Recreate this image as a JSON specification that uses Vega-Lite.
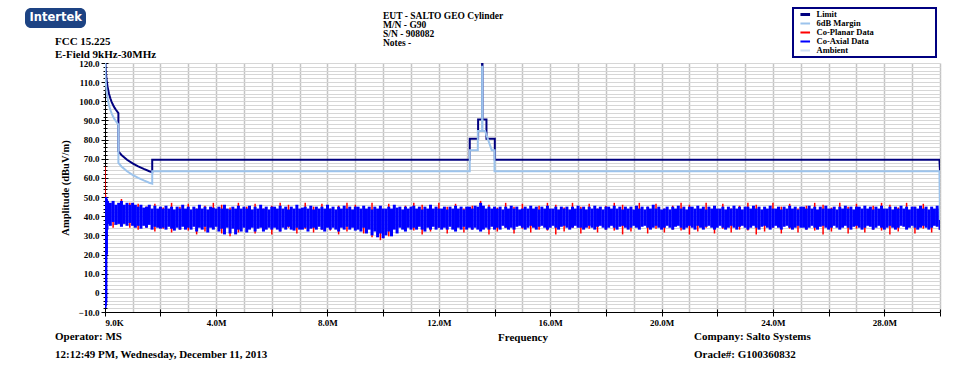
{
  "$schema": "https://vega.github.io/schema/vega-lite/v6.json",
  "width": 835,
  "height": 249,
  "autosize": {"type": "none"},
  "padding": {"left": 105, "top": 63, "right": 34, "bottom": 56},
  "background": "white",
  "config": {"view": {"stroke": null}, "font": "Liberation Serif"},
  "datasets": {
    "coaxial": [
      {"f":0.009,"lo":-8,"hi":50},{"f":0.02,"lo":-7,"hi":49},{"f":0.04,"lo":-5,"hi":50},{"f":0.06,"lo":20,"hi":49},{"f":0.08,"lo":33,"hi":48},
      {"f":0.1,"lo":36,"hi":48},{"f":0.2,"lo":35,"hi":47},{"f":0.3,"lo":37,"hi":48},{"f":0.4,"lo":35.5,"hi":46},{"f":0.5,"lo":36,"hi":47},{"f":0.6,"lo":34.5,"hi":48},{"f":0.7,"lo":36,"hi":46},{"f":0.8,"lo":35,"hi":47},{"f":0.9,"lo":36.5,"hi":46},{"f":1.0,"lo":35,"hi":47},
      {"f":1.1,"lo":34,"hi":46},{"f":1.2,"lo":35,"hi":45},{"f":1.3,"lo":33.5,"hi":46},{"f":1.4,"lo":35,"hi":44.5},{"f":1.5,"lo":34,"hi":45},{"f":1.6,"lo":35.5,"hi":46},{"f":1.7,"lo":33,"hi":44},{"f":1.8,"lo":34.5,"hi":45.5},{"f":1.9,"lo":34,"hi":44},{"f":2.0,"lo":33.5,"hi":45},
      {"f":2.1,"lo":34,"hi":44},{"f":2.2,"lo":33,"hi":45.5},{"f":2.3,"lo":34.5,"hi":44},{"f":2.4,"lo":33.5,"hi":45},{"f":2.5,"lo":32.5,"hi":43.5},{"f":2.6,"lo":34,"hi":45},{"f":2.7,"lo":33,"hi":44},{"f":2.8,"lo":34.5,"hi":46},{"f":2.9,"lo":33,"hi":44},{"f":3.0,"lo":34,"hi":45},
      {"f":3.1,"lo":33,"hi":43.5},{"f":3.2,"lo":34.5,"hi":45},{"f":3.3,"lo":32,"hi":44},{"f":3.4,"lo":34,"hi":46},{"f":3.5,"lo":33,"hi":44},{"f":3.6,"lo":34.5,"hi":45},{"f":3.7,"lo":31.5,"hi":43.5},{"f":3.8,"lo":34,"hi":45},{"f":3.9,"lo":33,"hi":44.5},{"f":4.0,"lo":34.5,"hi":44},
      {"f":4.1,"lo":32,"hi":45},{"f":4.2,"lo":33.5,"hi":44},{"f":4.3,"lo":30.5,"hi":46},{"f":4.4,"lo":34,"hi":44},{"f":4.5,"lo":31,"hi":43.5},{"f":4.6,"lo":33.5,"hi":45},{"f":4.7,"lo":30.5,"hi":44},{"f":4.8,"lo":33,"hi":45.5},{"f":4.9,"lo":32,"hi":44},{"f":5.0,"lo":34,"hi":45},
      {"f":5.1,"lo":31.5,"hi":44},{"f":5.2,"lo":33,"hi":45.5},{"f":5.3,"lo":34,"hi":43.5},{"f":5.4,"lo":32,"hi":45},{"f":5.5,"lo":33.5,"hi":44},{"f":5.6,"lo":34,"hi":46},{"f":5.7,"lo":32,"hi":44},{"f":5.8,"lo":33,"hi":45},{"f":5.9,"lo":34,"hi":43.5},{"f":6.0,"lo":33,"hi":45},
      {"f":6.1,"lo":34,"hi":45},{"f":6.2,"lo":33,"hi":44},{"f":6.3,"lo":32,"hi":45.5},{"f":6.4,"lo":34,"hi":44},{"f":6.5,"lo":33,"hi":45},{"f":6.6,"lo":34.5,"hi":43.5},{"f":6.7,"lo":33,"hi":45},{"f":6.8,"lo":32.5,"hi":44},{"f":6.9,"lo":34,"hi":46},{"f":7.0,"lo":33,"hi":44},
      {"f":7.1,"lo":33,"hi":44.5},{"f":7.2,"lo":34,"hi":45},{"f":7.3,"lo":32,"hi":44},{"f":7.4,"lo":33.5,"hi":45.5},{"f":7.5,"lo":34,"hi":43.5},{"f":7.6,"lo":33,"hi":45},{"f":7.7,"lo":34.5,"hi":44},{"f":7.8,"lo":33,"hi":45},{"f":7.9,"lo":32,"hi":44},{"f":8.0,"lo":34,"hi":46},
      {"f":8.1,"lo":33,"hi":44},{"f":8.2,"lo":34,"hi":45},{"f":8.3,"lo":33,"hi":43.5},{"f":8.4,"lo":32,"hi":45},{"f":8.5,"lo":34,"hi":44},{"f":8.6,"lo":33,"hi":45.5},{"f":8.7,"lo":34.5,"hi":44},{"f":8.8,"lo":33,"hi":45},{"f":8.9,"lo":34,"hi":43.5},{"f":9.0,"lo":32.5,"hi":45},
      {"f":9.1,"lo":33,"hi":45},{"f":9.2,"lo":32,"hi":44},{"f":9.3,"lo":34,"hi":45.5},{"f":9.4,"lo":31,"hi":44},{"f":9.5,"lo":33,"hi":45},{"f":9.6,"lo":30,"hi":43.5},{"f":9.7,"lo":32,"hi":45},{"f":9.8,"lo":29,"hi":44},{"f":9.9,"lo":31,"hi":45.5},{"f":10.0,"lo":28.5,"hi":44},
      {"f":10.1,"lo":30,"hi":44},{"f":10.2,"lo":32,"hi":45},{"f":10.3,"lo":29.5,"hi":44},{"f":10.4,"lo":33,"hi":46},{"f":10.5,"lo":31,"hi":44.5},{"f":10.6,"lo":34,"hi":45},{"f":10.7,"lo":33,"hi":43.5},{"f":10.8,"lo":32,"hi":45},{"f":10.9,"lo":34,"hi":44},{"f":11.0,"lo":33,"hi":45},
      {"f":11.1,"lo":34,"hi":45.5},{"f":11.2,"lo":33,"hi":44},{"f":11.3,"lo":34.5,"hi":45},{"f":11.4,"lo":33,"hi":43.5},{"f":11.5,"lo":32,"hi":45},{"f":11.6,"lo":34,"hi":44},{"f":11.7,"lo":33,"hi":46},{"f":11.8,"lo":34.5,"hi":44},{"f":11.9,"lo":33,"hi":45},{"f":12.0,"lo":34,"hi":44},
      {"f":12.1,"lo":33,"hi":44},{"f":12.2,"lo":34,"hi":45},{"f":12.3,"lo":33,"hi":43.5},{"f":12.4,"lo":34.5,"hi":45},{"f":12.5,"lo":33,"hi":44},{"f":12.6,"lo":32,"hi":45.5},{"f":12.7,"lo":34,"hi":44},{"f":12.8,"lo":33,"hi":45},{"f":12.9,"lo":34.5,"hi":43.5},{"f":13.0,"lo":33,"hi":45},
      {"f":13.1,"lo":34,"hi":45},{"f":13.2,"lo":33,"hi":44},{"f":13.3,"lo":34,"hi":45.5},{"f":13.4,"lo":33,"hi":45},{"f":13.5,"lo":32,"hi":47},{"f":13.6,"lo":33,"hi":45.5},{"f":13.7,"lo":34,"hi":44},{"f":13.8,"lo":33,"hi":45},{"f":13.9,"lo":34.5,"hi":44},{"f":14.0,"lo":33,"hi":45},
      {"f":14.1,"lo":34,"hi":44},{"f":14.2,"lo":33,"hi":45},{"f":14.3,"lo":35,"hi":43.5},{"f":14.4,"lo":34,"hi":45},{"f":14.5,"lo":33,"hi":44},{"f":14.6,"lo":34,"hi":45.5},{"f":14.7,"lo":33,"hi":44},{"f":14.8,"lo":34.5,"hi":45},{"f":14.9,"lo":35,"hi":43.5},{"f":15.0,"lo":34,"hi":44},
      {"f":15.1,"lo":33,"hi":45},{"f":15.2,"lo":34,"hi":44},{"f":15.3,"lo":35,"hi":45.5},{"f":15.4,"lo":34,"hi":44},{"f":15.5,"lo":33,"hi":45},{"f":15.6,"lo":34.5,"hi":43.5},{"f":15.7,"lo":35,"hi":45},{"f":15.8,"lo":34,"hi":44},{"f":15.9,"lo":33,"hi":45.5},{"f":16.0,"lo":34,"hi":44},
      {"f":16.1,"lo":35,"hi":44},{"f":16.2,"lo":34,"hi":45},{"f":16.3,"lo":33,"hi":43.5},{"f":16.4,"lo":34.5,"hi":45},{"f":16.5,"lo":35,"hi":44},{"f":16.6,"lo":34,"hi":45},{"f":16.7,"lo":33,"hi":43.5},{"f":16.8,"lo":34,"hi":45},{"f":16.9,"lo":35,"hi":44},{"f":17.0,"lo":34,"hi":45.5},
      {"f":17.1,"lo":34,"hi":44},{"f":17.2,"lo":33,"hi":45},{"f":17.3,"lo":34,"hi":43.5},{"f":17.4,"lo":35,"hi":45},{"f":17.5,"lo":34,"hi":44},{"f":17.6,"lo":33,"hi":45.5},{"f":17.7,"lo":34.5,"hi":44},{"f":17.8,"lo":35,"hi":45},{"f":17.9,"lo":34,"hi":43.5},{"f":18.0,"lo":33,"hi":45},
      {"f":18.1,"lo":34,"hi":45},{"f":18.2,"lo":35,"hi":44},{"f":18.3,"lo":34,"hi":45.5},{"f":18.4,"lo":33,"hi":44},{"f":18.5,"lo":34.5,"hi":45},{"f":18.6,"lo":35,"hi":43.5},{"f":18.7,"lo":34,"hi":45},{"f":18.8,"lo":33,"hi":44},{"f":18.9,"lo":34,"hi":45},{"f":19.0,"lo":35,"hi":43.5},
      {"f":19.1,"lo":34,"hi":45.5},{"f":19.2,"lo":33,"hi":44},{"f":19.3,"lo":34.5,"hi":45},{"f":19.4,"lo":35,"hi":43.5},{"f":19.5,"lo":34,"hi":45},{"f":19.6,"lo":33,"hi":44},{"f":19.7,"lo":34,"hi":46},{"f":19.8,"lo":35,"hi":44},{"f":19.9,"lo":34,"hi":45},{"f":20.0,"lo":33,"hi":43.5},
      {"f":20.1,"lo":34,"hi":44},{"f":20.2,"lo":35,"hi":45},{"f":20.3,"lo":34,"hi":43.5},{"f":20.4,"lo":33,"hi":45},{"f":20.5,"lo":34.5,"hi":44},{"f":20.6,"lo":35,"hi":45.5},{"f":20.7,"lo":34,"hi":44},{"f":20.8,"lo":33,"hi":45},{"f":20.9,"lo":34,"hi":43.5},{"f":21.0,"lo":35,"hi":45},
      {"f":21.1,"lo":34,"hi":45},{"f":21.2,"lo":33,"hi":44},{"f":21.3,"lo":35,"hi":45.5},{"f":21.4,"lo":34,"hi":44},{"f":21.5,"lo":33,"hi":45},{"f":21.6,"lo":34.5,"hi":43.5},{"f":21.7,"lo":35,"hi":45},{"f":21.8,"lo":34,"hi":44},{"f":21.9,"lo":33,"hi":45.5},{"f":22.0,"lo":34,"hi":44},
      {"f":22.1,"lo":35,"hi":44},{"f":22.2,"lo":34,"hi":45},{"f":22.3,"lo":33,"hi":43.5},{"f":22.4,"lo":34,"hi":45},{"f":22.5,"lo":35,"hi":44},{"f":22.6,"lo":34,"hi":45.5},{"f":22.7,"lo":33,"hi":44},{"f":22.8,"lo":34.5,"hi":45},{"f":22.9,"lo":35,"hi":43.5},{"f":23.0,"lo":34,"hi":45},
      {"f":23.1,"lo":33,"hi":45},{"f":23.2,"lo":34,"hi":44},{"f":23.3,"lo":35,"hi":45.5},{"f":23.4,"lo":34,"hi":44},{"f":23.5,"lo":33,"hi":45},{"f":23.6,"lo":34.5,"hi":43.5},{"f":23.7,"lo":35,"hi":45},{"f":23.8,"lo":34,"hi":44},{"f":23.9,"lo":33,"hi":45.5},{"f":24.0,"lo":34,"hi":44},
      {"f":24.1,"lo":35,"hi":44},{"f":24.2,"lo":34,"hi":45},{"f":24.3,"lo":33,"hi":43.5},{"f":24.4,"lo":34.5,"hi":45},{"f":24.5,"lo":35,"hi":44},{"f":24.6,"lo":34,"hi":45.5},{"f":24.7,"lo":33,"hi":44},{"f":24.8,"lo":34,"hi":45},{"f":24.9,"lo":35,"hi":43.5},{"f":25.0,"lo":34,"hi":45},
      {"f":25.1,"lo":34,"hi":45},{"f":25.2,"lo":33,"hi":44},{"f":25.3,"lo":34,"hi":45.5},{"f":25.4,"lo":35,"hi":44},{"f":25.5,"lo":34,"hi":45},{"f":25.6,"lo":33,"hi":43.5},{"f":25.7,"lo":34.5,"hi":45},{"f":25.8,"lo":35,"hi":44},{"f":25.9,"lo":34,"hi":45.5},{"f":26.0,"lo":33,"hi":44},
      {"f":26.1,"lo":34,"hi":44},{"f":26.2,"lo":35,"hi":45},{"f":26.3,"lo":34,"hi":43.5},{"f":26.4,"lo":33,"hi":45},{"f":26.5,"lo":34,"hi":44},{"f":26.6,"lo":35,"hi":45.5},{"f":26.7,"lo":34,"hi":44},{"f":26.8,"lo":33,"hi":45},{"f":26.9,"lo":34.5,"hi":43.5},{"f":27.0,"lo":35,"hi":45},
      {"f":27.1,"lo":34,"hi":45},{"f":27.2,"lo":33,"hi":44},{"f":27.3,"lo":34,"hi":45.5},{"f":27.4,"lo":35,"hi":44},{"f":27.5,"lo":34.5,"hi":45},{"f":27.6,"lo":33,"hi":43.5},{"f":27.7,"lo":34,"hi":45},{"f":27.8,"lo":35,"hi":44},{"f":27.9,"lo":34,"hi":45.5},{"f":28.0,"lo":33,"hi":44},
      {"f":28.1,"lo":34,"hi":44},{"f":28.2,"lo":35,"hi":45},{"f":28.3,"lo":34,"hi":43.5},{"f":28.4,"lo":33,"hi":45},{"f":28.5,"lo":34,"hi":44},{"f":28.6,"lo":35,"hi":45.5},{"f":28.7,"lo":34.5,"hi":44},{"f":28.8,"lo":33,"hi":45},{"f":28.9,"lo":34,"hi":43.5},{"f":29.0,"lo":35,"hi":45},
      {"f":29.1,"lo":34,"hi":45},{"f":29.2,"lo":33,"hi":44},{"f":29.3,"lo":34,"hi":45.5},{"f":29.4,"lo":35,"hi":44},{"f":29.5,"lo":34,"hi":45},{"f":29.6,"lo":33,"hi":43.5},{"f":29.7,"lo":34,"hi":45},{"f":29.8,"lo":35,"hi":44},{"f":29.9,"lo":34.5,"hi":45.5},{"f":30.0,"lo":33,"hi":44}
    ],
    "coplanar": [
      {"f":0.009,"lo":33,"hi":66},{"f":0.03,"lo":40,"hi":51},{"f":0.06,"lo":38,"hi":49},
      {"f":0.3,"lo":34,"hi":48},{"f":0.6,"lo":35,"hi":49},{"f":0.9,"lo":34,"hi":47},{"f":1.2,"lo":33,"hi":46.5},{"f":1.5,"lo":34,"hi":45},{"f":1.8,"lo":32,"hi":46.5},{"f":2.1,"lo":33.5,"hi":44.5},{"f":2.4,"lo":31.5,"hi":47},{"f":2.7,"lo":33,"hi":45},{"f":3.0,"lo":32.5,"hi":46.5},
      {"f":3.3,"lo":30.5,"hi":44},{"f":3.6,"lo":32,"hi":45.5},{"f":3.9,"lo":34,"hi":47},{"f":4.2,"lo":31,"hi":46},{"f":4.5,"lo":29.5,"hi":44.5},{"f":4.8,"lo":31.5,"hi":47},{"f":5.1,"lo":33,"hi":45},{"f":5.4,"lo":31,"hi":46.5},{"f":5.7,"lo":32.5,"hi":44},{"f":6.0,"lo":30.5,"hi":45.5},
      {"f":6.3,"lo":32,"hi":47},{"f":6.6,"lo":34,"hi":46},{"f":6.9,"lo":31,"hi":44.5},{"f":7.2,"lo":33.5,"hi":47},{"f":7.5,"lo":31.5,"hi":45},{"f":7.8,"lo":33,"hi":46.5},{"f":8.1,"lo":32.5,"hi":44},{"f":8.4,"lo":30.5,"hi":45.5},{"f":8.7,"lo":32,"hi":47},{"f":9.0,"lo":34,"hi":46},
      {"f":9.3,"lo":31,"hi":44.5},{"f":9.6,"lo":29,"hi":47},{"f":9.9,"lo":27.5,"hi":45},{"f":10.2,"lo":29.5,"hi":46.5},{"f":10.5,"lo":31.5,"hi":44},{"f":10.8,"lo":33,"hi":45.5},{"f":11.1,"lo":32.5,"hi":47},{"f":11.4,"lo":30.5,"hi":46},{"f":11.7,"lo":32,"hi":44.5},{"f":12.0,"lo":34,"hi":47},
      {"f":12.3,"lo":31,"hi":45},{"f":12.6,"lo":33.5,"hi":46.5},{"f":12.9,"lo":31.5,"hi":44},{"f":13.2,"lo":33,"hi":45.5},{"f":13.5,"lo":32.5,"hi":48},{"f":13.8,"lo":30.5,"hi":46},{"f":14.1,"lo":32,"hi":44.5},{"f":14.4,"lo":34,"hi":47},{"f":14.7,"lo":31,"hi":45},{"f":15.0,"lo":33.5,"hi":46.5},
      {"f":15.3,"lo":31.5,"hi":44},{"f":15.6,"lo":33,"hi":45.5},{"f":15.9,"lo":32.5,"hi":47},{"f":16.2,"lo":30.5,"hi":46},{"f":16.5,"lo":32,"hi":44.5},{"f":16.8,"lo":34,"hi":47},{"f":17.1,"lo":31,"hi":45},{"f":17.4,"lo":33.5,"hi":46.5},{"f":17.7,"lo":31.5,"hi":44},{"f":18.0,"lo":33,"hi":45.5},
      {"f":18.3,"lo":32.5,"hi":47},{"f":18.6,"lo":30.5,"hi":46},{"f":18.9,"lo":32,"hi":44.5},{"f":19.2,"lo":34,"hi":47},{"f":19.5,"lo":31,"hi":45},{"f":19.8,"lo":33.5,"hi":46.5},{"f":20.1,"lo":31.5,"hi":44},{"f":20.4,"lo":33,"hi":45.5},{"f":20.7,"lo":32.5,"hi":47},{"f":21.0,"lo":30.5,"hi":46},
      {"f":21.3,"lo":32,"hi":44.5},{"f":21.6,"lo":34,"hi":47},{"f":21.9,"lo":31,"hi":45},{"f":22.2,"lo":33.5,"hi":46.5},{"f":22.5,"lo":31.5,"hi":44},{"f":22.8,"lo":33,"hi":45.5},{"f":23.1,"lo":32.5,"hi":47},{"f":23.4,"lo":30.5,"hi":46},{"f":23.7,"lo":32,"hi":44.5},{"f":24.0,"lo":34,"hi":47},
      {"f":24.3,"lo":31,"hi":45},{"f":24.6,"lo":33.5,"hi":46.5},{"f":24.9,"lo":31.5,"hi":44},{"f":25.2,"lo":33,"hi":45.5},{"f":25.5,"lo":32.5,"hi":47},{"f":25.8,"lo":30.5,"hi":46},{"f":26.1,"lo":32,"hi":44.5},{"f":26.4,"lo":34,"hi":47},{"f":26.7,"lo":31,"hi":45},{"f":27.0,"lo":33.5,"hi":46.5},
      {"f":27.3,"lo":31.5,"hi":44},{"f":27.6,"lo":33,"hi":45.5},{"f":27.9,"lo":32.5,"hi":47},{"f":28.2,"lo":30.5,"hi":46},{"f":28.5,"lo":32,"hi":44.5},{"f":28.8,"lo":34,"hi":47},{"f":29.1,"lo":31,"hi":45},{"f":29.4,"lo":33.5,"hi":46.5},{"f":29.7,"lo":31.5,"hi":44},{"f":30.0,"lo":33,"hi":45.5}
    ],
    "limit": [
      {"i":0,"f":0.009,"db":128.5},{"i":1,"f":0.012,"db":126.0},{"i":2,"f":0.015,"db":124.1},{"i":3,"f":0.02,"db":121.6},{"i":4,"f":0.03,"db":118.1},{"i":5,"f":0.04,"db":115.6},{"i":6,"f":0.05,"db":113.6},{"i":7,"f":0.07,"db":110.7},{"i":8,"f":0.1,"db":107.6},{"i":9,"f":0.15,"db":104.1},
      {"i":10,"f":0.2,"db":101.6},{"i":11,"f":0.25,"db":99.6},{"i":12,"f":0.3,"db":98.1},{"i":13,"f":0.35,"db":96.7},{"i":14,"f":0.4,"db":95.6},{"i":15,"f":0.49,"db":93.8},{"i":16,"f":0.49,"db":73.8},{"i":17,"f":0.6,"db":72.0},{"i":18,"f":0.8,"db":69.5},{"i":19,"f":1.0,"db":67.6},
      {"i":20,"f":1.2,"db":66.0},{"i":21,"f":1.4,"db":64.7},{"i":22,"f":1.6,"db":63.5},{"i":23,"f":1.705,"db":63.0},{"i":24,"f":1.705,"db":69.5},{"i":25,"f":13.11,"db":69.5},{"i":26,"f":13.11,"db":80.5},{"i":27,"f":13.41,"db":80.5},{"i":28,"f":13.41,"db":90.5},{"i":29,"f":13.553,"db":90.5},
      {"i":30,"f":13.553,"db":124},{"i":31,"f":13.567,"db":124},{"i":32,"f":13.567,"db":90.5},{"i":33,"f":13.71,"db":90.5},{"i":34,"f":13.71,"db":80.5},{"i":35,"f":14.01,"db":80.5},{"i":36,"f":14.01,"db":69.5},{"i":37,"f":29.98,"db":69.5},{"i":38,"f":30,"db":63.5}
    ],
    "margin": [
      {"i":0,"f":0.009,"db":122.5},{"i":1,"f":0.012,"db":120.0},{"i":2,"f":0.015,"db":118.1},{"i":3,"f":0.02,"db":115.6},{"i":4,"f":0.03,"db":112.1},{"i":5,"f":0.04,"db":109.6},{"i":6,"f":0.05,"db":107.6},{"i":7,"f":0.07,"db":104.7},{"i":8,"f":0.1,"db":101.6},{"i":9,"f":0.15,"db":98.1},
      {"i":10,"f":0.2,"db":95.6},{"i":11,"f":0.25,"db":93.6},{"i":12,"f":0.3,"db":92.1},{"i":13,"f":0.35,"db":90.7},{"i":14,"f":0.4,"db":89.6},{"i":15,"f":0.49,"db":87.8},{"i":16,"f":0.49,"db":67.8},{"i":17,"f":0.6,"db":66.0},{"i":18,"f":0.8,"db":63.5},{"i":19,"f":1.0,"db":61.6},
      {"i":20,"f":1.2,"db":60.0},{"i":21,"f":1.4,"db":58.7},{"i":22,"f":1.6,"db":57.5},{"i":23,"f":1.705,"db":57.0},{"i":24,"f":1.705,"db":63.5},{"i":25,"f":13.11,"db":63.5},{"i":26,"f":13.11,"db":74.5},{"i":27,"f":13.4,"db":74.5},{"i":28,"f":13.4,"db":84.5},{"i":29,"f":13.553,"db":84.5},
      {"i":30,"f":13.553,"db":118},{"i":31,"f":13.567,"db":118},{"i":32,"f":13.567,"db":84.5},{"i":33,"f":13.66,"db":84.5},{"i":34,"f":13.9,"db":74.5},{"i":35,"f":14.0,"db":74.5},{"i":36,"f":14.0,"db":63.5},{"i":37,"f":29.98,"db":63.5},{"i":38,"f":30,"db":38}
    ]
  },
  "resolve": {"axis": {"x": "independent", "y": "independent"}},
  "layer": [
    {
      "data": {"name": "coplanar"},
      "mark": {"type": "rule", "strokeWidth": 1.5, "clip": true},
      "encoding": {
        "x": {"field": "f", "type": "quantitative",
          "scale": {"domain": [0.009, 30], "nice": false, "zero": false},
          "axis": {"orient": "bottom", "values": [0.009, 4, 8, 12, 16, 20, 24, 28],
            "labelExpr": "datum.value < 1 ? '9.0K' : format(datum.value, '.1f') + 'M'",
            "grid": false, "domainColor": "black", "tickColor": "black", "tickSize": 4, "labelPadding": 2,
            "labelFont": "Liberation Serif", "labelFontWeight": "bold", "labelFontSize": 9, "labelColor": "black",
            "title": "Frequency", "titleFont": "Liberation Serif", "titleFontWeight": "bold", "titleFontSize": 11, "titleColor": "black", "titlePadding": 4}},
        "y": {"field": "lo", "type": "quantitative",
          "scale": {"domain": [-10, 120], "nice": false, "zero": false},
          "axis": {"orient": "left", "values": [-10, 0, 10, 20, 30, 40, 50, 60, 70, 80, 90, 100, 110, 120],
            "labelExpr": "datum.value == 0 ? '0' : format(datum.value, '.1f')",
            "grid": false, "domainColor": "black", "tickColor": "black", "tickSize": 4, "labelPadding": 2,
            "labelFont": "Liberation Serif", "labelFontWeight": "bold", "labelFontSize": 9, "labelColor": "black",
            "title": "Amplitude (dBuV/m)", "titleFont": "Liberation Serif", "titleFontWeight": "bold", "titleFontSize": 10.5, "titleColor": "black", "titlePadding": 8}},
        "y2": {"field": "hi"},
        "color": {"datum": "Co-Planar Data", "type": "nominal",
          "scale": {"domain": ["Limit", "6dB Margin", "Co-Planar Data", "Co-Axial Data", "Ambient"],
                    "range": ["#000080", "#9cc3ec", "#ff0000", "#0000ff", "#cfe0f3"]},
          "legend": {"orient": "none", "legendX": 688, "legendY": -55, "title": null,
            "symbolType": "M-1.6,0H1.6", "symbolStrokeWidth": 2, "symbolSize": 36, "symbolOffset": 6, "labelOffset": 7,
            "labelFont": "Liberation Serif", "labelFontWeight": "bold", "labelFontSize": 8.5, "labelColor": "black",
            "strokeColor": "#000080", "padding": 2, "rowPadding": 0, "clipHeight": 8.8,
            "labelExpr": "datum.label + '\u00a0\u00a0\u00a0\u00a0\u00a0\u00a0\u00a0\u00a0\u00a0\u00a0\u00a0\u00a0\u00a0\u00a0\u00a0\u00a0\u00a0\u00a0\u00a0\u00a0\u00a0\u00a0\u00a0\u00a0\u00a0\u00a0\u00a0\u00a0\u200b'",
            "encode": {"legend": {"update": {"strokeWidth": {"value": 2}}},
                       "symbols": {"update": {"strokeWidth": {"signal": "datum.value === 'Limit' ? 3 : 2"}}}}}}
      }
    },
    {
      "data": {"name": "coaxial"},
      "mark": {"type": "rule", "strokeWidth": 3, "clip": true},
      "encoding": {
        "x": {"field": "f", "type": "quantitative",
          "axis": {"orient": "bottom", "values": [1,2,3,4,5,6,7,8,9,10,11,12,13,14,15,16,17,18,19,20,21,22,23,24,25,26,27,28,29,30],
            "labels": false, "domain": false, "ticks": false, "grid": true, "gridColor": "#c4c4c4", "gridWidth": 1.5, "title": null}},
        "y": {"field": "lo", "type": "quantitative",
          "axis": {"orient": "left", "values": [-10,-8,-6,-4,-2,0,2,4,6,8,10,12,14,16,18,20,22,24,26,28,30,32,34,36,38,40,42,44,46,48,50,52,54,56,58,60,62,64,66,68,70,72,74,76,78,80,82,84,86,88,90,92,94,96,98,100,102,104,106,108,110,112,114,116,118,120],
            "labels": false, "domain": false, "ticks": true, "tickSize": 2, "tickColor": "black", "grid": true, "gridColor": "#d6d6d6", "gridWidth": 1, "title": null}},
        "y2": {"field": "hi"},
        "color": {"datum": "Co-Axial Data", "type": "nominal"}
      }
    },
    {
      "data": {"name": "limit"},
      "mark": {"type": "line", "strokeWidth": 2, "clip": true},
      "encoding": {
        "x": {"field": "f", "type": "quantitative",
          "axis": {"orient": "bottom", "values": [2, 6, 10, 14, 18, 22, 26, 30],
            "labels": false, "domain": false, "grid": false, "ticks": true, "tickSize": 4, "tickColor": "black", "title": null}},
        "y": {"field": "db", "type": "quantitative",
          "axis": {"orient": "left", "values": [-10,-8,-6,-4,-2,0,2,4,6,8,10,12,14,16,18,20,22,24,26,28,30,32,34,36,38,40,42,44,46,48,50,52,54,56,58,60,62,64,66,68,70,72,74,76,78,80,82,84,86,88,90,92,94,96,98,100,102,104,106,108,110,112,114,116,118,120],
            "labels": false, "domain": false, "grid": false, "ticks": true, "tickSize": -2, "tickColor": "black", "title": null}},
        "order": {"field": "i", "type": "quantitative"},
        "color": {"datum": "Limit", "type": "nominal"}
      }
    },
    {
      "data": {"name": "margin"},
      "mark": {"type": "line", "strokeWidth": 2, "clip": true},
      "encoding": {
        "x": {"field": "f", "type": "quantitative",
          "axis": {"orient": "bottom", "values": [0.009, 2, 4, 6, 8, 10, 12, 14, 16, 18, 20, 22, 24, 26, 28, 30],
            "labels": false, "domain": false, "grid": false, "ticks": true, "tickSize": -3, "tickColor": "black", "title": null}},
        "y": {"field": "db", "type": "quantitative",
          "axis": {"orient": "left", "values": [-10, 0, 10, 20, 30, 40, 50, 60, 70, 80, 90, 100, 110, 120],
            "labels": false, "domain": false, "grid": false, "ticks": true, "tickSize": -3, "tickColor": "black", "title": null}},
        "order": {"field": "i", "type": "quantitative"},
        "color": {"datum": "6dB Margin", "type": "nominal"}
      }
    },
    {
      "data": {"values": [{"brand": "Intertek"}]},
      "mark": {"type": "point", "opacity": 0},
      "encoding": {
        "shape": {"field": "brand", "type": "nominal",
          "legend": {"orient": "none", "legendX": -80, "legendY": -55, "title": null,
            "fillColor": "#1d4383", "cornerRadius": 6, "padding": 4,
            "symbolSize": 0, "symbolOpacity": 0, "symbolStrokeWidth": 0, "labelOffset": -11,
            "labelColor": "white", "labelFont": "DejaVu Sans", "labelFontWeight": "bold", "labelFontSize": 11.5}}
      }
    },
    {
      "data": {"values": [{}]},
      "mark": {"type": "text", "align": "left", "baseline": "alphabetic", "font": "Liberation Serif", "fontWeight": "bold", "fontSize": 11, "color": "black"},
      "encoding": {
        "x": {"datum": -1.787, "type": "quantitative", "axis": null},
        "y": {"datum": 129.4, "type": "quantitative", "axis": null},
        "text": {"value": "FCC 15.225"}
      }
    },
    {
      "data": {"values": [{}]},
      "mark": {"type": "text", "align": "left", "baseline": "alphabetic", "font": "Liberation Serif", "fontWeight": "bold", "fontSize": 11, "color": "black"},
      "encoding": {
        "x": {"datum": -1.787, "type": "quantitative", "axis": null},
        "y": {"datum": 122.4, "type": "quantitative", "axis": null},
        "text": {"value": "E-Field 9kHz-30MHz"}
      }
    },
    {
      "data": {"values": [{}]},
      "mark": {"type": "text", "align": "left", "baseline": "alphabetic", "font": "Liberation Serif", "fontWeight": "bold", "fontSize": 9.5, "lineHeight": 9.2, "color": "black"},
      "encoding": {
        "x": {"datum": 9.994, "type": "quantitative", "axis": null},
        "y": {"datum": 143.2, "type": "quantitative", "axis": null},
        "text": {"value": ["EUT - SALTO GEO Cylinder", "M/N - G90", "S/N - 908082", "Notes -"]}
      }
    },
    {
      "data": {"values": [{}]},
      "mark": {"type": "text", "align": "left", "baseline": "alphabetic", "font": "Liberation Serif", "fontWeight": "bold", "fontSize": 11, "color": "black"},
      "encoding": {
        "x": {"datum": -1.787, "type": "quantitative", "axis": null},
        "y": {"datum": -24.4, "type": "quantitative", "axis": null},
        "text": {"value": "Operator: MS"}
      }
    },
    {
      "data": {"values": [{}]},
      "mark": {"type": "text", "align": "left", "baseline": "alphabetic", "font": "Liberation Serif", "fontWeight": "bold", "fontSize": 11, "color": "black"},
      "encoding": {
        "x": {"datum": -1.787, "type": "quantitative", "axis": null},
        "y": {"datum": -34.0, "type": "quantitative", "axis": null},
        "text": {"value": "12:12:49 PM, Wednesday, December 11, 2013"}
      }
    },
    {
      "data": {"values": [{}]},
      "mark": {"type": "text", "align": "left", "baseline": "alphabetic", "font": "Liberation Serif", "fontWeight": "bold", "fontSize": 11, "color": "black"},
      "encoding": {
        "x": {"datum": 21.166, "type": "quantitative", "axis": null},
        "y": {"datum": -24.4, "type": "quantitative", "axis": null},
        "text": {"value": "Company: Salto Systems"}
      }
    },
    {
      "data": {"values": [{}]},
      "mark": {"type": "text", "align": "left", "baseline": "alphabetic", "font": "Liberation Serif", "fontWeight": "bold", "fontSize": 11, "color": "black"},
      "encoding": {
        "x": {"datum": 21.166, "type": "quantitative", "axis": null},
        "y": {"datum": -34.0, "type": "quantitative", "axis": null},
        "text": {"value": "Oracle#: G100360832"}
      }
    }
  ]
}
